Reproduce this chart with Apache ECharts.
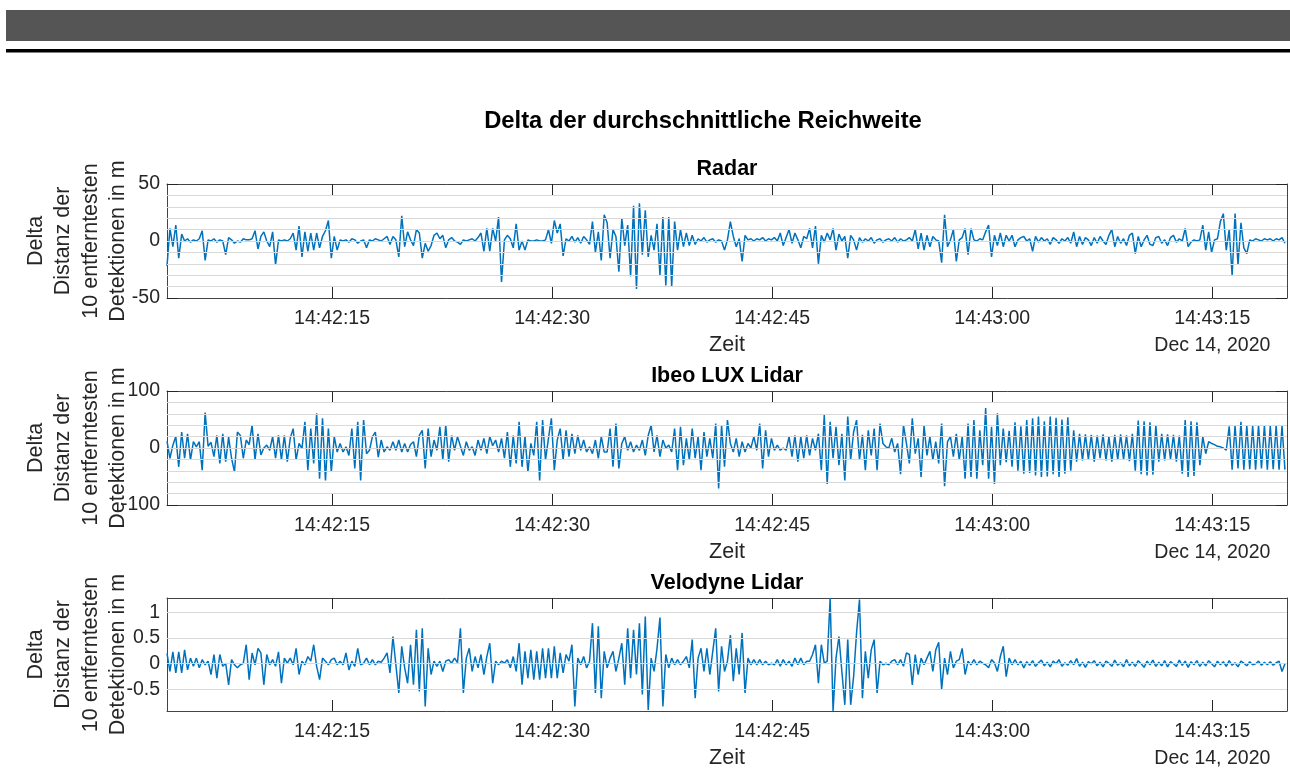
<!DOCTYPE html>
<html>
<head>
<meta charset="utf-8">
<title>Delta der durchschnittliche Reichweite</title>
<script src="https://cdn.jsdelivr.net/npm/echarts@6/dist/echarts.min.js"></script>
<style>
html, body { margin: 0; padding: 0; background: #fff; }
#chart { width: 1290px; height: 769px; }
</style>
</head>
<body>
<div id="chart"></div>
<script>
// Zeit in Sekunden nach 14:42:00, eine Probe alle 0.2 s
var sampleStart = 3.75;
var sampleStep = 0.2;
var timeMin = 3.75;
var timeMax = 80.09;

var xTickValues = [15, 30, 45, 60, 75];
var xTickLabels = ['14:42:15', '14:42:30', '14:42:45', '14:43:00', '14:43:15'];
var dateLabel = 'Dec 14, 2020';

var radarTicks = [-50, 0, 50];
var radarGrid = [-40, -30, -20, -10, 0, 10, 20, 30, 40];
var ibeoTicks = [-100, 0, 100];
var ibeoGrid = [-80, -60, -40, -20, 0, 20, 40, 60, 80];
var veloTicks = [-0.5, 0, 0.5, 1];
var veloGrid = [-0.5, 0, 0.5, 1];

var radarValues = [
  -22, 11, -5, 14, -15, 6, 0, 2, -1, 1,
  0, 2, 9, -17, 1, 0, 2, -1, 1, 0,
  -12, 3, 1, -2, 0, -1, 2, 1, 1, 2,
  9, -7, 4, 8, 0, -5, 8, -21, 1, 0,
  1, 0, 2, 7, -8, 13, -14, 8, -9, 7,
  -8, 7, -6, 4, 9, 18, -15, 4, -8, 1,
  0, 1, -1, 2, 1, -2, 0, 1, -6, 1,
  0, 2, 1, 0, 2, 4, -3, 4, 1, -14,
  22, -5, 8, 1, -4, 10, 7, -15, -2, -9,
  -4, 5, 7, 2, 5, -6, 1, 3, 0, -1,
  -3, 1, 0, 1, 2, 0, 3, 7, -9, 11,
  -9, 11, 0, 21, -36, 1, 5, 2, -6, 15,
  -8, 0, -8, 1, 0, 0, 1, 0, 0, 1,
  10, -2, 18, 7, 15, -13, 2, 0, 4, -1,
  3, -2, 4, 1, -3, 17, -10, 8, -17, 23,
  16, -15, 10, 4, -27, 20, -4, 14, -31, 31,
  -42, 33, -12, 27, -14, 5, -8, 15, -30, 21,
  -39, 21, -40, 17, -8, 10, -5, 7, -4, 5,
  -3, 2, 0, 3, -1, 1, 2, -1, 1, 0,
  -8, 1, 17, 4, -5, 2, -18, 5, 1, 2,
  0, 2, 1, 3, 0, 2, 1, 3, 0, 7,
  -4, 3, 10, -2, 7, 1, -6, 4, 2, 11,
  -6, 13, -20, 5, -1, 7, 1, 11, -8, 6,
  0, 4, -15, 5, 1, -8, 3, -1, 2, 0,
  3, -2, 1, 2, -1, 1, 2, 0, 3, -1,
  2, 0, 1, 3, 0, 10, -7, 7, -8, 5,
  -5, 4, 1, 0, -19, 23, -5, 1, 10, -18,
  1, 3, 11, -12, 11, 1, 0, 2, 1, 8,
  14, -14, 5, -4, 7, -5, 5, 0, 5, -5,
  1, 3, 4, 0, 2, -9, 4, -1, 3, 0,
  2, -3, 3, 1, -2, 2, 0, 3, -2, 8,
  -5, 4, -3, 3, 1, -4, 3, -2, 4, 0,
  -3, 5, 10, -5, 4, -2, 2, -4, 5, 7,
  -11, 4, -5, 1, 5, -3, -4, 3, 4, -2,
  1, -4, 3, 5, -1, 2, 0, 11, -5, -1,
  1, 0, 1, 14, -8, 8, -10, 1, 2, 17,
  24, -8, 10, -30, 24, -21, 16, -6, -11, 1,
  0, 2, 1, 0, 2, 1, 2, 0, 2, 1,
  3, -2
];

var ibeoValues = [
  12, -18, 5, 20, -33, 28, -18, 25, -21, 11,
  2, 11, -39, 62, 3, 10, -15, 22, -27, 25,
  -24, 19, -18, -42, 28, 22, -18, 14, 6, 40,
  -21, 25, -12, 0, 5, -4, 20, -18, 22, -21,
  22, -24, 17, 34, -21, 8, -1, 46, -39, 34,
  -27, 61, -54, 52, -57, 34, -42, 20, -7, 8,
  -7, 2, -13, 34, -36, 46, -57, 49, -10, -4,
  20, 28, -16, 14, -7, 2, -4, 11, -4, 14,
  -7, 8, -7, 6, 11, -15, 22, 31, -36, 34,
  -15, 14, -4, 37, -21, 40, -24, 22, -4, 20,
  3, -13, 11, -4, 2, -13, 14, -4, 17, -10,
  20, 4, 14, -7, 17, -18, 28, -33, 22, -27,
  46, -33, 20, -42, 8, -13, 46, -57, 49, -21,
  17, 52, -39, 14, 34, -21, 31, -15, 25, -10,
  22, -4, 14, -7, 2, -10, 14, -18, 20, -7,
  -7, 34, -33, 43, -36, 8, 20, -4, 11, -7,
  5, -4, 14, -13, 22, 40, -7, 22, -15, 14,
  0, 5, -7, 34, -39, 37, -30, 17, -21, 34,
  -18, 20, -39, 28, -15, 17, -18, 43, -71, 40,
  -33, 49, 8, -7, 17, -15, 11, -7, 8, 0,
  20, -4, 43, -36, 31, -15, 17, -4, 5, -4,
  0, -4, 20, -15, 22, -24, 20, -18, 22, -13,
  17, -4, 25, -39, 58, -63, 46, -18, 37, -30,
  25, -57, 55, -21, 28, 49, -21, 23, -39, 31,
  -13, 34, -39, 43, 8, 2, 0, 17, -7, 8,
  -46, 40, 8, -27, 52, -10, 17, -51, 40, -13,
  20, -21, 11, -27, 43, -67, 11, 20, -15, 25,
  -21, 20, -54, 43, -51, 49, -54, 31, -30, 70,
  -54, 37, -63, 61, -30, 34, -25, 30, -33, 45,
  -40, 38, -45, 49, -44, 52, -48, 55, -51, 47,
  -50, 55, -46, 53, -51, 50, -45, 54, -40, 31,
  -24, 25, -22, 24, -20, 23, -24, 22, -18, 24,
  -22, 20, -24, 23, -21, 24, -20, 22, -23, 25,
  -40, 48, -46, 47, -48, 45, -47, 40, -24, 25,
  -22, 24, -20, 23, -24, 22, -45, 49, -51, 47,
  -49, 45, -30, 20, -10, 11, 8, 6, 3, 2,
  0, -4, 38, -38, 40, -36, 46, -38, 40, -37,
  39, -38, 40, -36, 40, -38, 39, -37, 40, -38,
  39, -38
];

var veloValues = [
  0.2, -0.15, 0.23, -0.18, 0.23, -0.18, 0.27, -0.12, 0.11, -0.05,
  0.11, -0.08, 0.08, -0.02, 0.05, -0.21, 0.18, -0.28, 0.18, -0.05,
  0.01, -0.41, 0.08, -0.02, -0.08, -0.02, 0.01, 0.37, -0.31, 0.21,
  -0.02, 0.3, 0.21, -0.41, 0.18, -0.02, 0.08, -0.05, 0.23, -0.38,
  0.11, 0.01, 0.11, -0.02, 0.3, -0.21, 0.05, -0.02, 0.14, 0.05,
  0.37, -0.05, -0.31, 0.11, 0.05, -0.02, 0.08, 0.11, -0.02, 0.05,
  -0.02, 0.21, -0.12, 0.05, -0.05, 0.3, -0.02, 0.01, 0.11, -0.02,
  0.08, -0.02, 0.05, 0.03, 0.11, 0.21, -0.18, 0.53, -0.02, -0.57,
  0.34, -0.08, -0.38, 0.37, -0.41, 0.66, -0.54, 0.69, -0.83, 0.3,
  -0.21, 0.05, -0.05, 0.05, -0.15, 0.05, 0.08, 0.01, 0.11, 0.02,
  0.69, -0.57, 0.11, 0.3, -0.15, 0.14, -0.08, 0.18, -0.21, 0.14,
  0.4, -0.38, 0.05, -0.02, 0.05, 0.01, 0.08, -0.08, 0.14, -0.15,
  0.4, -0.41, 0.24, -0.28, 0.27, -0.31, 0.24, -0.31, 0.3, -0.28,
  0.3, -0.28, 0.34, -0.28, 0.21, -0.18, 0.18, 0.05, 0.37, -0.83,
  0.11, -0.02, 0.14, -0.08, 0.05, 0.79, -0.57, 0.73, -0.67, 0.24,
  -0.08, 0.11, 0.24, -0.15, 0.11, 0.4, -0.41, 0.69, -0.28, 0.66,
  -0.21, 0.79, -0.6, 0.92, -0.9, 0.11, -0.15, 0.3, 0.9, -0.83,
  0.18, -0.08, 0.11, -0.02, 0.08, -0.02, 0.05, 0.14, -0.08, 0.47,
  -0.67, 0.11, 0.3, -0.15, 0.3, -0.21, 0.24, 0.69, -0.54, 0.34,
  -0.15, 0.05, 0.56, -0.34, 0.3, -0.21, 0.6, -0.57, 0.11, -0.02,
  0.08, -0.02, 0.08, -0.02, 0.05, -0.02, 0.01, -0.02, 0.08, -0.05,
  0.08, -0.02, 0.05, -0.05, 0.11, -0.02, 0.11, -0.02, 0.05, 0.05,
  0.18, 0.37, -0.38, 0.37, 0.01, 0.05, 1.28, -0.92, 0.11, 0.53,
  -0.15, -0.8, 0.47, -0.8, -0.25, 0.6, 1.25, -0.67, 0.24, -0.28,
  0.27, 0.47, -0.57, 0.05, -0.02, 0.01, -0.02, 0.05, 0.08, -0.02,
  0.08, -0.05, 0.21, 0.18, -0.41, 0.18, -0.21, 0.11, -0.02, 0.11,
  0.24, -0.15, 0.27, 0.42, -0.5, 0.11, -0.21, 0.24, -0.08, 0.05,
  0.08, 0.3, -0.21, 0.05, -0.02, 0.08, -0.02, 0.05, 0.01, -0.02,
  -0.08, 0.08, 0.02, -0.15, 0.14, 0.34, -0.25, 0.11, -0.02, 0.08,
  -0.02, 0.05, -0.08, 0.04, -0.03, 0.06, -0.05, 0.02, 0.07, -0.04,
  0.03, -0.06, 0.05, 0.0, 0.08, -0.05, 0.02, -0.03, 0.06, -0.02,
  0.1, -0.05, 0.03, -0.07, 0.04, 0.0, 0.06, -0.04, 0.03, -0.06,
  0.05, 0.01, -0.05, 0.07, -0.03, 0.02, -0.06, 0.08, -0.04, 0.03,
  -0.05, 0.06, 0.0, -0.07, 0.05, -0.02, 0.07, -0.05, 0.03, -0.04,
  0.06, -0.06, 0.04, 0.0, -0.05, 0.07, -0.03, 0.05, -0.07, 0.04,
  -0.02, 0.06, -0.05, 0.03, -0.04, 0.06, 0.0, -0.06, 0.05, -0.02,
  0.04, -0.05, 0.06, -0.03, 0.02, -0.06, 0.05, 0.01, -0.04, 0.04,
  -0.02, 0.0, 0.05, -0.03, 0.03, -0.02, 0.04, -0.03, 0.02, 0.05,
  -0.15, 0.0
];

var fontName = '"Liberation Sans", Arial, sans-serif';
var textColor = '#262626';
var axisColor = '#444444';
var lineColor = '#0072BD';
var yLabel = 'Delta\nDistanz der\n10 entferntesten\nDetektionen in m';

var panels = [
  { title: 'Radar', values: radarValues, top: 184, height: 114, min: -50, max: 50, ticks: radarTicks, grid: radarGrid },
  { title: 'Ibeo LUX Lidar', values: ibeoValues, top: 391, height: 114, min: -100, max: 100, ticks: ibeoTicks, grid: ibeoGrid },
  { title: 'Velodyne Lidar', values: veloValues, top: 598, height: 113, min: -0.92, max: 1.28, ticks: veloTicks, grid: veloGrid }
];

function toPairs(values) {
  return values.map(function (v, i) {
    return [+(sampleStart + i * sampleStep).toFixed(2), v];
  });
}

function timeLabel(v) {
  var idx = xTickValues.indexOf(v);
  if (idx < 0) return '';
  var s = xTickLabels[idx];
  if (idx === xTickValues.length - 1) s += '\n{d|' + dateLabel + '}';
  return s;
}

var myChart = echarts.init(document.getElementById('chart'));

var option = {
  animation: false,
  backgroundColor: '#ffffff',
  title: [{
    text: 'Delta der durchschnittliche Reichweite',
    left: 703, top: 109, textAlign: 'center', padding: 0,
    textStyle: { fontFamily: fontName, fontSize: 23.8, fontWeight: 'bold', color: '#000' }
  }],
  graphic: [
    { type: 'rect', shape: { x: 6, y: 10, width: 1284, height: 31 }, style: { fill: '#555555' }, silent: true },
    { type: 'rect', shape: { x: 6, y: 49, width: 1284, height: 3.6 }, style: { fill: '#000000' }, silent: true }
  ],
  grid: [],
  xAxis: [],
  yAxis: [],
  series: []
};

panels.forEach(function (p, k) {
  option.title.push({
    text: p.title, left: 727, top: p.top - 25.5, textAlign: 'center', padding: 0,
    textStyle: { fontFamily: fontName, fontSize: 21.5, fontWeight: 'bold', color: '#000' }
  });
  option.grid.push({ left: 167, width: 1120, top: p.top, height: p.height, outerBoundsMode: 'none' });

  // unten mit Beschriftung, oben nur Striche
  option.xAxis.push({
    type: 'value', gridIndex: k, min: timeMin, max: timeMax, position: 'bottom',
    name: 'Zeit', nameLocation: 'middle', nameGap: 35, nameMoveOverlap: false,
    nameTextStyle: { fontFamily: fontName, fontSize: 21.5, lineHeight: 24, color: textColor },
    axisLine: { show: true, onZero: false, lineStyle: { color: axisColor, width: 1 } },
    axisTick: { show: true, inside: true, length: 11, customValues: xTickValues, lineStyle: { color: textColor, width: 1 } },
    axisLabel: {
      customValues: xTickValues, margin: 7, fontFamily: fontName, fontSize: 19.5, lineHeight: 27, color: textColor,
      formatter: timeLabel, hideOverlap: false,
      rich: { d: { fontFamily: fontName, fontSize: 19.5, lineHeight: 27, color: textColor } }
    },
    splitLine: { show: false }
  });
  option.xAxis.push({
    type: 'value', gridIndex: k, min: timeMin, max: timeMax, position: 'top',
    axisLine: { show: true, onZero: false, lineStyle: { color: axisColor, width: 1 } },
    axisTick: { show: true, inside: true, length: 11, customValues: xTickValues, lineStyle: { color: textColor, width: 1 } },
    axisLabel: { show: false },
    splitLine: { show: false }
  });

  option.yAxis.push({
    type: 'value', gridIndex: k, min: p.min, max: p.max, position: 'left',
    name: yLabel, nameLocation: 'middle', nameRotate: 90, nameGap: 35, nameMoveOverlap: false,
    nameTextStyle: { fontFamily: fontName, fontSize: 21.5, lineHeight: 27.5, color: textColor, align: 'center' },
    axisLine: { show: true, onZero: false, lineStyle: { color: axisColor, width: 1 } },
    axisTick: { show: true, inside: true, length: 11, customValues: p.ticks, lineStyle: { color: textColor, width: 1 } },
    axisLabel: {
      customValues: p.ticks, margin: 7, fontFamily: fontName, fontSize: 19.5, color: textColor,
      hideOverlap: false, showMinLabel: true, showMaxLabel: true,
      formatter: function (v) { return String(v); }
    },
    splitLine: { show: false }
  });
  option.yAxis.push({
    type: 'value', gridIndex: k, min: p.min, max: p.max, position: 'right',
    axisLine: { show: true, onZero: false, lineStyle: { color: axisColor, width: 1 } },
    axisTick: { show: true, inside: true, length: 11, customValues: p.ticks, lineStyle: { color: textColor, width: 1 } },
    axisLabel: { show: false },
    splitLine: { show: false }
  });

  // Gitterlinien unter der Kurve
  option.series.push({
    type: 'line', xAxisIndex: 2 * k, yAxisIndex: 2 * k, data: [], z: 1, silent: true,
    markLine: {
      silent: true, symbol: 'none', animation: false, label: { show: false },
      lineStyle: { color: '#d9d9d9', width: 1, type: 'solid' },
      data: p.grid.map(function (v) { return { yAxis: v }; })
    }
  });
  option.series.push({
    type: 'line', name: p.title, xAxisIndex: 2 * k, yAxisIndex: 2 * k,
    data: toPairs(p.values), z: 3,
    showSymbol: false, symbol: 'none', sampling: null,
    lineStyle: { color: lineColor, width: 1.5 },
    itemStyle: { color: lineColor }
  });
});

myChart.setOption(option);
</script>
</body>
</html>
